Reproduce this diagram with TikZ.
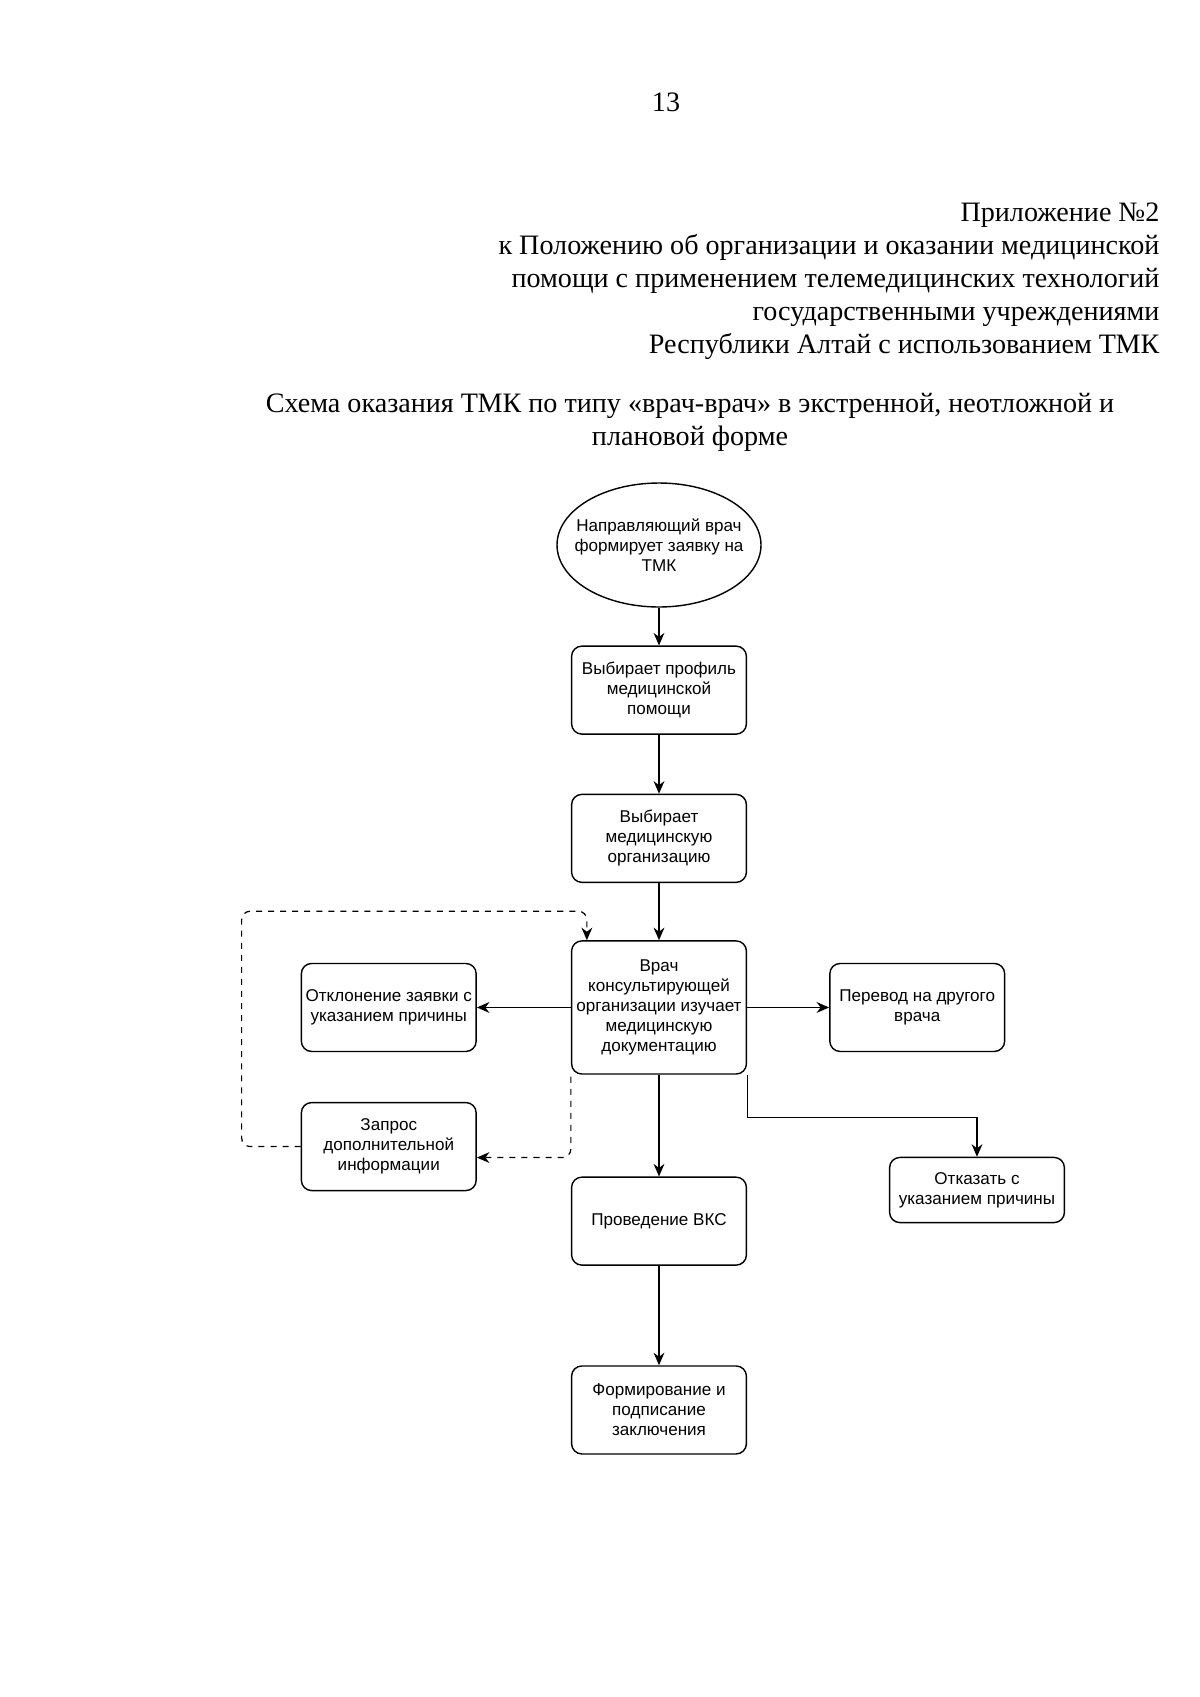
\documentclass[tikz,border=0pt]{standalone}
\usepackage{fontspec}
\setmainfont{Liberation Serif}
\newfontfamily\boxfont{Liberation Sans}
\usetikzlibrary{positioning,calc}
\usetikzlibrary{shapes.geometric, arrows.meta}
\tikzset{
  headtxt/.style={inner sep=0pt, font=\fontsize{14}{16.4}\selectfont},
  blk/.style={rectangle, rounded corners=1.8mm, minimum width=3.06cm, minimum height=1.54cm, text centered, align=center, inner sep=1pt, draw=black, line width=0.7pt, font=\boxfont\fontsize{8.5}{10}\selectfont},
  mainblk/.style={blk, minimum height=2.33cm},
  lowblk/.style={blk, minimum height=1.14cm},
  ell/.style={ellipse, minimum width=3.57cm, minimum height=2.17cm, inner xsep=-2.2mm, inner ysep=0pt, text centered, align=center, draw=black, line width=0.7pt, font=\boxfont\fontsize{8.5}{10}\selectfont}
}
\begin{document}
\begin{tikzpicture}[x=0.0175cm, y=-0.0175cm, line width=0.6pt, >={Stealth[length=2.2mm, width=1.9mm]}]
	\useasboundingbox (0,0) rectangle (1200,1697);
	% header
	\node[headtxt] (pagenum) at (666,102) {13};
	\node[headtxt, anchor=east, align=right] (appx) at (1160,281) {Приложение №2\\к Положению об организации и оказании медицинской\\помощи с применением телемедицинских технологий\\государственными учреждениями\\Республики Алтай с использованием ТМК};
	\node[headtxt, align=center] (title) at (690,422) {Схема оказания ТМК по типу «врач-врач» в экстренной, неотложной и\\плановой форме};
	% scheme
	\node[ell] (start) at (659,545) {Направляющий врач\\формирует заявку на\\ТМК};
	\node[blk, below=0.66cm of start] (profile) {Выбирает профиль\\медицинской\\помощи};
	\node[blk, below=1.03cm of profile] (org) {Выбирает\\медицинскую\\организацию};
	\node[mainblk, below=1cm of org] (consult) {Врач\\консультирующей\\организации изучает\\медицинскую\\документацию};
	\node[blk, left=1.645cm of consult] (reject) {Отклонение заявки с\\указанием причины};
	\node[blk, right=1.435cm of consult] (transfer) {Перевод на другого\\врача};
	\node[blk, below=0.87cm of reject] (request) {Запрос\\дополнительной\\информации};
	\node[blk, below=1.78cm of consult] (vks) {Проведение ВКС};
	\node[blk, below=1.74cm of vks] (report) {Формирование и\\подписание\\заключения};
	\node[lowblk] (refuse) at (977,1190) {Отказать с\\указанием причины};
	%
	\draw[->] (start) -- (profile);
	\draw[->] (profile) -- (org);
	\draw[->] (org) -- (consult);
	\draw[->] (consult) -- (reject);
	\draw[->] (consult) -- (transfer);
	\draw[->] (consult) -- (vks);
	\draw[->] (vks) -- (report);
	\draw[->] (consult.south east) -- ++(0,43) -| (refuse.north);
	\draw[->, dashed, rounded corners=1.5mm] (request.west) -- ++(-59,0) |- ($(consult.north west)+(16,-29)$) -- ($(consult.north west)+(16,0)$);
	\draw[->, dashed, rounded corners=1.5mm] ($(consult.south west)+(0,2)$) |- ($(request.east)+(0,11)$);
\end{tikzpicture}
\end{document}
